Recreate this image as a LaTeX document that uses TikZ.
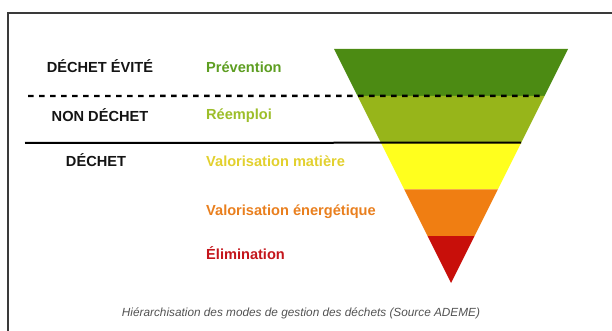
\documentclass[tikz,border=0pt]{standalone}
\usepackage{fontspec}
\setmainfont{Liberation Sans}
\usetikzlibrary{calc}
\definecolor{cadre}{HTML}{3A3A3A}
\definecolor{bandA}{HTML}{4C8B13}
\definecolor{bandB}{HTML}{97B51A}
\definecolor{bandC}{HTML}{FFFF1E}
\definecolor{bandD}{HTML}{F07E12}
\definecolor{bandE}{HTML}{C80F0A}
\definecolor{txtA}{HTML}{5E9E22}
\definecolor{txtB}{HTML}{9DBE2A}
\definecolor{txtC}{HTML}{E2D02E}
\definecolor{txtD}{HTML}{E97F1E}
\definecolor{txtE}{HTML}{C4161C}

\begin{document}
\begin{tikzpicture}[x=1pt,y=-1pt,
    etat/.style={font=\fontsize{14.6}{16}\selectfont\bfseries, text=black!92, anchor=base, inner sep=0pt},
    mode/.style={font=\fontsize{14.6}{16}\selectfont\bfseries, anchor=base west, inner sep=0pt}]
    \useasboundingbox (0,0) rectangle (612,331);
    \draw[cadre, line width=1.6pt] (8,331) -- (8,13) -- (612,13);
    % entonnoir
    \coordinate (tl) at (334,49);
    \coordinate (tr) at (568,49);
    \coordinate (apex) at (451,283);
    \foreach \a/\b/\col in {0/0.2/bandA, 0.2/0.4/bandB, 0.4/0.6/bandC, 0.6/0.8/bandD, 0.8/1/bandE}
      \fill[\col] ($(tl)!\a!(apex)$) -- ($(tr)!\a!(apex)$) -- ($(tr)!\b!(apex)$) -- ($(tl)!\b!(apex)$) -- cycle;
    % separations
    \coordinate (evite) at (28,96);
    \coordinate (dechet) at (25,143);
    \draw[black, line width=2.4pt, dash pattern=on 5.5pt off 5.5pt] (evite) -- ($(tr)!0.2!(apex)$);
    \draw[black, line width=2pt] (dechet) -- ($(tr)!0.4!(apex)$);
    % etats
    \node[etat] (evitee) at (100,73) {DÉCHET ÉVITÉ};
    \node[etat] (nondechet) at (100,122) {NON DÉCHET};
    \node[etat] (dechetlbl) at (96,167) {DÉCHET};
    % modes
    \node[mode, txtA] (prevention) at (206,73) {Prévention};
    \node[mode, txtB] (reemploi) at (206,120) {Réemploi};
    \node[mode, txtC] (matiere) at (206,167) {Valorisation matière};
    \node[mode, txtD] (energie) at (206,215) {Valorisation énergétique};
    \node[mode, txtE] (elimination) at (206,259) {Élimination};
    \node[anchor=base, inner sep=0pt, text=black!68, font=\fontsize{11.8}{13}\selectfont\itshape] (legende) at (301,316)
      {Hiérarchisation des modes de gestion des déchets (Source ADEME)};
\end{tikzpicture}
\end{document}
